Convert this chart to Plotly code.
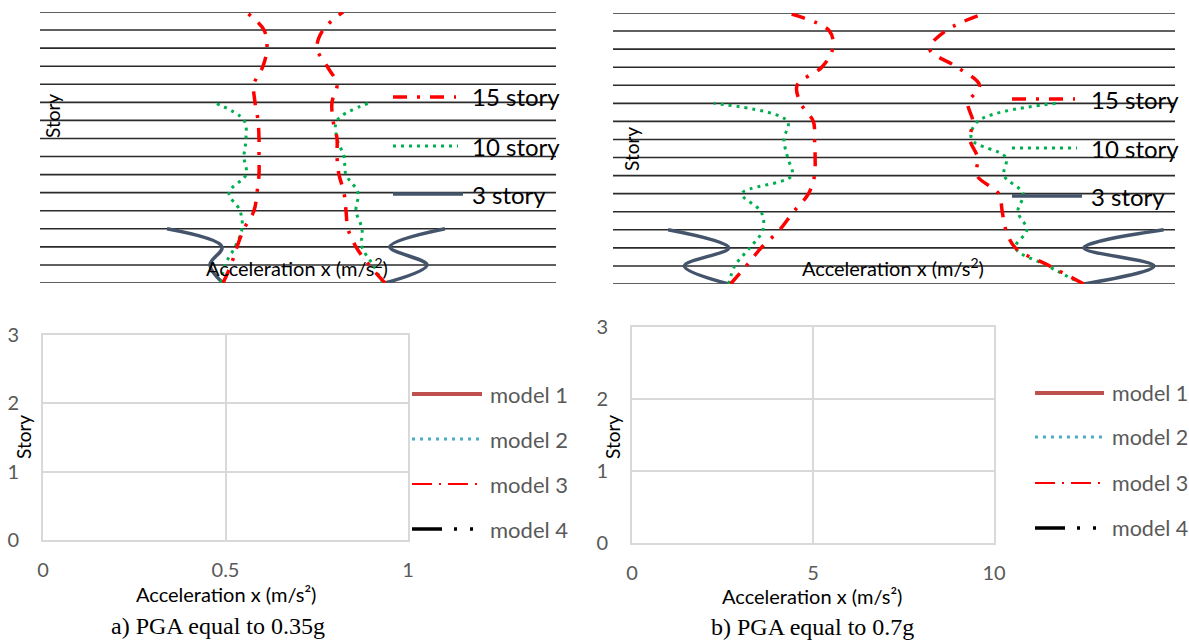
import plotly.graph_objects as go

W, H = 1189, 643
SANS = "Lato, 'Open Sans', sans-serif"
SERIF = "'Liberation Serif', 'Times New Roman', serif"

# ---------------- data ----------------
stories15 = list(range(16))
stories10 = list(range(11))
stories3 = list(range(4))

# a) PGA 0.35g : acceleration envelopes (min / max) per story
a15_min = [-0.80, -0.72, -0.66, -0.59, -0.49, -0.46, -0.44, -0.44, -0.44, -0.45, -0.48, -0.49, -0.40, -0.36, -0.39, -0.57]
a15_max = [0.82, 0.66, 0.53, 0.45, 0.43, 0.41, 0.36, 0.34, 0.34, 0.30, 0.29, 0.34, 0.24, 0.14, 0.20, 0.40]
a10_min = [-0.82, -0.78, -0.68, -0.61, -0.63, -0.74, -0.57, -0.59, -0.57, -0.59, -0.89]
a10_max = [0.80, 0.70, 0.59, 0.59, 0.53, 0.55, 0.43, 0.41, 0.34, 0.34, 0.68]
a3_min = [-0.80, -0.93, -0.81, -1.36]
a3_max = [0.82, 1.24, 0.87, 1.42]

# b) PGA 0.7g
b15_min = [-2.94, -2.68, -2.43, -2.12, -1.89, -1.64, -1.54, -1.53, -1.54, -1.56, -1.77, -1.83, -1.42, -1.24, -1.29, -1.99]
b15_max = [2.95, 2.38, 1.81, 1.65, 1.59, 1.53, 1.17, 1.18, 1.05, 1.10, 1.02, 1.21, 0.84, 0.38, 0.64, 1.31]
b10_min = [-2.97, -2.87, -2.62, -2.40, -2.43, -2.75, -1.92, -1.99, -2.05, -1.99, -3.22]
b10_max = [2.92, 2.35, 1.81, 2.00, 1.85, 1.94, 1.62, 1.65, 1.08, 1.18, 2.48]
b3_min = [-2.97, -3.71, -2.97, -3.98]
b3_max = [2.95, 4.12, 2.95, 4.28]

top_series = ["15 story", "10 story", "3 story"]
models = ["model 1", "model 2", "model 3", "model 4"]
# the lower charts show no visible curves
model_x = {m: [] for m in models}
model_y = {m: [] for m in models}
bottom_x_ticks_a = [0, 0.5, 1]
bottom_x_ticks_b = [0, 5, 10]
bottom_y_ticks = [0, 1, 2, 3]

# ---------------- styles ----------------
top_styles = {
    "15 story": dict(color="#ff0000", width=3.5, dash="14px,10px,3px,10px"),
    "10 story": dict(color="#00b050", width=3, dash="3px,5px"),
    "3 story": dict(color="#44546a", width=3.5, dash="solid"),
}
model_styles = {
    "model 1": dict(color="#c0504d", width=4, dash="solid"),
    "model 2": dict(color="#4bacc6", width=3, dash="3px,5px"),
    "model 3": dict(color="#ff0000", width=2, dash="20px,7px,2px,7px"),
    "model 4": dict(color="#000000", width=3.5, dash="30px,12px,3px,13px,3px,13px"),
}


def px(x):
    return x / W


def py(y):
    return 1 - y / H


fig = go.Figure()

panels = [
    ("x", "y", {"15 story": (a15_min, a15_max, stories15),
                "10 story": (a10_min, a10_max, stories10),
                "3 story": (a3_min, a3_max, stories3)}),
    ("x2", "y2", {"15 story": (b15_min, b15_max, stories15),
                  "10 story": (b10_min, b10_max, stories10),
                  "3 story": (b3_min, b3_max, stories3)}),
]
for xa, ya, data in panels:
    for name in ["3 story", "10 story", "15 story"]:
        lo, hi, st = data[name]
        for vals in (lo, hi):
            fig.add_trace(go.Scatter(
                x=vals, y=st, mode="lines", xaxis=xa, yaxis=ya,
                line=dict(shape="spline", smoothing=1.0, **top_styles[name]),
                showlegend=False, hoverinfo="skip", cliponaxis=False))

for xa, ya in [("x3", "y3"), ("x4", "y4")]:
    for m in models:
        fig.add_trace(go.Scatter(x=model_x[m], y=model_y[m], mode="lines", xaxis=xa, yaxis=ya,
                                 line=dict(color=model_styles[m]["color"], width=model_styles[m]["width"],
                                           dash=model_styles[m]["dash"]),
                                 name=m, showlegend=False, hoverinfo="skip"))

top_y = dict(range=[0, 15], showgrid=False, zeroline=False, showticklabels=False,
             ticks="", showline=False, fixedrange=True)
top_x = dict(showgrid=False, zeroline=False, showticklabels=False, ticks="", showline=False)

bot_common = dict(showgrid=True, gridcolor="#d9d9d9", gridwidth=1.5, zeroline=False,
                  showline=True, mirror=True, linecolor="#d9d9d9", linewidth=2,
                  ticks="outside", tickcolor="rgba(0,0,0,0)", automargin=False,
                  tickfont=dict(family=SANS, size=20, color="#595959"))

fig.update_layout(
    width=W, height=H, margin=dict(l=0, r=0, t=0, b=0, pad=0, autoexpand=False),
    paper_bgcolor="white", plot_bgcolor="white", showlegend=False,
    xaxis=dict(domain=[px(40), px(556)], range=[-2.63, 2.53], anchor="y", **top_x),
    yaxis=dict(domain=[py(283), py(12)], anchor="x", **top_y),
    xaxis2=dict(domain=[px(613), px(1175)], range=[-4.90, 4.47], anchor="y2", **top_x),
    yaxis2=dict(domain=[py(284), py(13)], anchor="x2", **top_y),
    xaxis3=dict(domain=[px(43), px(408)], range=[0, 1], tickvals=bottom_x_ticks_a,
                ticklen=11, anchor="y3", **bot_common),
    yaxis3=dict(domain=[py(540), py(335)], range=[0, 3], tickvals=bottom_y_ticks,
                ticklen=18, anchor="x3", **bot_common),
    xaxis4=dict(domain=[px(632), px(994)], range=[0, 10], tickvals=bottom_x_ticks_b,
                ticklen=11, anchor="y4", **bot_common),
    yaxis4=dict(domain=[py(543), py(327)], range=[0, 3], tickvals=bottom_y_ticks,
                ticklen=18, anchor="x4", **bot_common),
)

shapes = []
annotations = []

# story floor lines of the upper charts (one per story level, in data coordinates)
for ya, xa in [("y", "x"), ("y2", "x2")]:
    for s in stories15:
        shapes.append(dict(type="line", xref=f"{xa} domain", yref=ya, x0=0, x1=1, y0=s, y1=s,
                           layer="below", line=dict(color="#2b2b2b", width=1.6)))


def text(x, y, s, size, color="#000000", family=SANS, xanchor="center", angle=0):
    annotations.append(dict(x=px(x), y=py(y), xref="paper", yref="paper", text=s,
                            showarrow=False, xanchor=xanchor, yanchor="middle",
                            textangle=angle, font=dict(family=family, size=size, color=color)))


def sample(x0, x1, y, style):
    shapes.append(dict(type="line", xref="paper", yref="paper", x0=px(x0), x1=px(x1),
                       y0=py(y), y1=py(y), line=dict(color=style["color"], width=style["width"],
                                                     dash=style["dash"])))


# top legends
for (lx0, lx1, tx, ys) in [(393, 463, 470, [97, 146, 194]), (1012, 1082, 1089, [99, 148, 196])]:
    for name, yy in zip(top_series, ys):
        x1 = lx1 if name == "3 story" else lx1 - (7 if name == "15 story" else 5)
        sample(lx0, x1, yy, top_styles[name])
        text(tx, yy, name, 24, xanchor="left")

# top axis labels
text(53, 116, "Story", 19, angle=-90)
text(631, 149, "Story", 19, angle=-90)
text(297, 267, "Acceleration x (m/s<sup>2</sup>)", 20)
text(893, 267, "Acceleration x (m/s<sup>2</sup>)", 20)

# bottom legends
for (lx0, lx1, tx, ys, fs) in [(412, 482, 488, [394, 439, 484, 529], 22),
                               (1035, 1104, 1110, [393, 437, 483, 528], 21.5)]:
    for name, yy in zip(models, ys):
        sample(lx0, lx1, yy, model_styles[name])
        text(tx, yy, name, fs, color="#595959", xanchor="left")

# bottom axis titles
text(226, 594, "Acceleration x (m/s²)", 20)
text(812, 596, "Acceleration x (m/s²)", 20)
text(23, 437, "Story", 19, angle=-90)
text(612, 437, "Story", 19, angle=-90)

# captions
text(218, 626, "a) PGA equal to 0.35g", 24, family=SERIF)
text(812, 627, "b) PGA equal to 0.7g", 24, family=SERIF)

fig.update_layout(shapes=shapes, annotations=annotations)
fig.write_html("out.html", config={"displayModeBar": False},
               post_script="document.body.style.margin='0px';")
